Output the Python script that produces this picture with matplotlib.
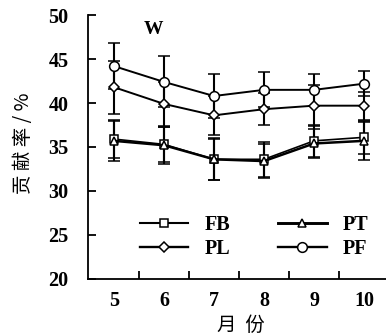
import numpy as np
import matplotlib.pyplot as plt
from matplotlib.lines import Line2D

months = [5, 6, 7, 8, 9, 10]
fb = [35.9, 35.3, 33.6, 33.6, 35.7, 36.1]
fb_err = [2.2, 2.0, 2.4, 2.0, 1.8, 1.9]
pt = [35.7, 35.2, 33.6, 33.4, 35.4, 35.7]
pt_err = [2.3, 2.1, 2.3, 1.9, 1.7, 2.2]
pl = [41.8, 39.9, 38.6, 39.3, 39.7, 39.7]
pl_err = [3.0, 2.5, 2.2, 1.8, 2.3, 1.6]
pf = [44.2, 42.4, 40.8, 41.5, 41.5, 42.2]
pf_err = [2.6, 2.9, 2.5, 2.0, 1.8, 1.4]

plt.rcParams['font.family'] = ['Liberation Serif', 'Noto Sans CJK SC']
cjk = ['Noto Sans CJK SC']

fig = plt.figure(figsize=(3.86, 3.36), dpi=100)
ax = fig.add_axes([0.228, 0.170, 0.772, 0.785])

x = np.array(months)
style = dict(color='black', ecolor='black', elinewidth=1.5, capsize=4.5,
             capthick=1.5, markerfacecolor='white', markeredgecolor='black',
             markeredgewidth=1.1)
series = [('FB', fb, fb_err, 's', 5.5, 1.2),
          ('PL', pl, pl_err, 'D', 5, 1.4),
          ('PT', pt, pt_err, '^', 5.5, 1.8),
          ('PF', pf, pf_err, 'o', 7, 1.4)]
handles = []
for name, y, e, m, ms, lw in series:
    ax.errorbar(x, y, yerr=e, marker=m, markersize=ms, lw=lw, **style)
    handles.append(Line2D([], [], color='black', lw=lw + 0.3, marker=m, markersize=ms,
                          markerfacecolor='white', markeredgecolor='black',
                          markeredgewidth=1.1, label=name))

ax.set_xlim(4.48, 10.44)
ax.set_ylim(20, 50)
ax.set_yticks([20, 25, 30, 35, 40, 45, 50])
ax.set_xticks(months)
ax.set_xticks([5.5, 6.5, 7.5, 8.5, 9.5], minor=True)
ax.tick_params(axis='x', which='major', length=0, pad=9, labelsize=14.5)
ax.tick_params(axis='x', which='minor', direction='in', length=6, width=1.3)
ax.tick_params(axis='y', direction='in', length=6, width=1.3, pad=14, labelsize=14.5)
for lab in ax.get_xticklabels() + ax.get_yticklabels():
    lab.set_fontweight('bold')
for s in ['top', 'right']:
    ax.spines[s].set_visible(False)
for s in ['left', 'bottom']:
    ax.spines[s].set_linewidth(1.3)

ax.text(5.78, 48.4, 'W', fontsize=14, fontweight='bold', ha='center', va='center')

ax.legend(handles=handles, ncol=2, loc='upper left', bbox_to_anchor=(0.14, 0.282),
          frameon=False, borderpad=0, handlelength=2.4, handletextpad=0.8,
          columnspacing=2.4, labelspacing=0.2, prop={'size': 14.5, 'weight': 'bold'})

ax.set_ylabel('贡 献 率 / %', fontsize=14, family=cjk)
ax.yaxis.set_label_coords(-0.18, 0.513)
ax.set_xlabel('月  份', fontsize=14, family=cjk)
ax.xaxis.set_label_coords(0.513, -0.135)

fig.savefig('out.png', dpi=100)
